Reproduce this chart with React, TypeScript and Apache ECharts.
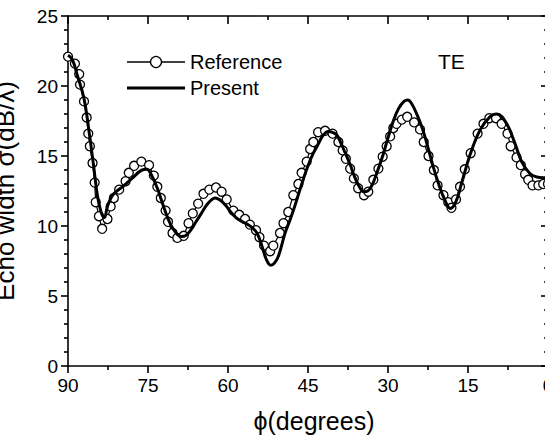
import React, { useEffect, useRef } from "react";
import * as echarts from "echarts";

const xTicks = [90, 75, 60, 45, 30, 15, 0];
const yTicks = [0, 5, 10, 15, 20, 25];

const presentPhi = [90, 89.2, 88.2, 87, 86, 85.2, 84.5, 83.8, 83.2, 82.6, 81.8, 81, 79.8, 78, 76.1, 75.2, 74.5, 73.25, 72, 70.75, 69.5, 68.7, 68, 67, 66, 65, 64, 63, 62.4, 61.5, 60.5, 59.5, 58.5, 57.5, 56.5, 55.5, 54.5, 53.5, 52.8, 52, 51.3, 50.5, 49.3, 48.5, 47.75, 47, 46, 45, 44, 43, 42.3, 41.2, 40.5, 39.6, 38.8, 38, 37, 36.5, 35.5, 34.5, 33.8, 33, 32, 31, 30, 29, 28, 27, 26.3, 25.5, 24.5, 23.5, 22.5, 21.5, 20.5, 19.5, 18.3, 17.3, 16.2, 14.6, 12.75, 10.9, 9.6, 7.75, 6.2, 4.95, 3.4, 2.1, 0.9, 0];
const presentVal = [22.2, 21.9, 20.7, 19.1, 16.6, 14.3, 12.2, 11.0, 10.6, 11.4, 12.1, 12.45, 12.8, 13.4, 14.0, 14.05, 13.75, 12.7, 11.3, 10.1, 9.4, 9.25, 9.3, 9.7, 10.3, 10.9, 11.5, 11.9, 12.0, 11.85, 11.5, 11.0, 10.6, 10.35, 10.15, 9.9, 9.45, 8.4, 7.6, 7.2, 7.35, 7.9, 9.5, 10.3, 11.1, 12.0, 13.2, 14.3, 15.2, 15.9, 16.4, 16.75, 16.7, 16.5, 15.9, 15.2, 14.3, 13.75, 12.9, 12.45, 12.5, 12.9, 13.9, 15.0, 16.3, 17.5, 18.4, 18.9, 19.0, 18.7, 17.9, 16.9, 15.6, 14.2, 13.0, 12.0, 11.25, 11.7, 13.05, 15.1, 16.85, 17.8, 18.0, 17.3, 15.9, 14.6, 13.75, 13.5, 13.45, 13.45];

const referencePhi = [90, 88.7, 87.9, 87.75, 87.0, 86.5, 86.2, 85.9, 85.4, 85.0, 84.8, 84.2, 83.6, 82.6, 82.0, 81.4, 80.4, 79.2, 78.6, 77.6, 76.25, 74.8, 73.9, 73.25, 72.6, 71.7, 71.25, 70.4, 69.5, 68.3, 67.4, 66.6, 65.6, 64.6, 63.5, 62.25, 61.2, 60.25, 59.0, 57.9, 56.8, 55.9, 54.75, 54.1, 53.25, 52.1, 51.5, 50.25, 49.6, 48.7, 47.75, 46.8, 46.2, 45.25, 44.6, 44.0, 43.1, 41.8, 40.4, 39.3, 38.5, 37.9, 37.1, 36.4, 35.6, 34.5, 33.7, 32.75, 31.8, 31.0, 30.25, 29.6, 29.0, 28.4, 27.4, 26.4, 25.1, 24.0, 23.3, 22.4, 21.4, 20.7, 19.6, 18.7, 18.1, 17.25, 16.5, 15.6, 14.5, 13.2, 12.1, 11.0, 9.75, 8.7, 7.6, 7.0, 5.9, 5.1, 4.3, 3.7, 2.9, 1.8, 0.9, 0];
const referenceVal = [22.1, 21.6, 20.85, 20.1, 18.9, 17.75, 16.6, 15.7, 14.5, 13.1, 11.7, 10.7, 9.8, 10.5, 11.4, 12.0, 12.6, 13.2, 13.8, 14.3, 14.6, 14.35, 13.6, 12.8, 12.0, 11.1, 10.3, 9.5, 9.15, 9.3, 10.2, 10.9, 11.6, 12.3, 12.6, 12.75, 12.45, 11.9, 11.1, 10.8, 10.5, 10.1, 9.7, 9.2, 8.6, 8.2, 8.6, 9.5, 10.2, 11.0, 12.2, 13.0, 13.8, 14.6, 15.5, 16.0, 16.7, 16.8, 16.6, 16.0, 15.4, 14.8, 14.1, 13.4, 12.7, 12.2, 12.45, 13.3, 14.1, 14.95, 15.7, 16.4, 17.0, 17.3, 17.6, 17.8, 17.4, 16.9, 16.0, 15.0, 14.0, 12.9, 12.2, 11.7, 11.3, 11.9, 12.8, 14.05, 15.2, 16.6, 17.3, 17.7, 17.7, 17.3, 16.6, 15.7, 14.9, 14.35, 13.7, 13.3, 12.9, 12.9, 13.0, 13.0];

const seriesNames = ["Reference", "Present"];
const FONT = "'Liberation Sans', Arial, Helvetica, sans-serif";

const stroke = () => ({ color: "#000", width: 1.6 });

export default function App() {
  const ref = useRef<HTMLDivElement>(null);
  useEffect(() => {
    if (!ref.current) return;
    const chart = echarts.init(ref.current, undefined, { renderer: "svg" });
    const xBase = () => ({
      type: "value" as const,
      gridIndex: 0,
      min: xTicks[xTicks.length - 1],
      max: xTicks[0],
      interval: 15,
      inverse: true,
      splitLine: { show: false },
      minorSplitLine: { show: false },
      axisLine: { show: true, onZero: false, lineStyle: stroke() },
    });
    const yBase = () => ({
      type: "value" as const,
      gridIndex: 0,
      min: yTicks[0],
      max: yTicks[yTicks.length - 1],
      interval: 5,
      splitLine: { show: false },
      minorSplitLine: { show: false },
      axisLine: { show: true, onZero: false, lineStyle: stroke() },
    });
    chart.setOption({
      animation: false,
      backgroundColor: "#fff",
      grid: {
        left: 68,
        top: 16,
        right: -3,
        bottom: 70,
        containLabel: false,
        outerBoundsMode: "none",
      },
      graphic: [
        { type: "line", shape: { x1: 127, y1: 62, x2: 185, y2: 62 }, style: { stroke: "#000", lineWidth: 1.5 } },
        { type: "circle", shape: { cx: 156, cy: 62, r: 5.5 }, style: { fill: "#fff", stroke: "#000", lineWidth: 1.3 } },
        { type: "text", x: 190, y: 62, style: { text: seriesNames[0], fontSize: 20, fill: "#000", fontFamily: FONT, verticalAlign: "middle" } },
        { type: "line", shape: { x1: 127, y1: 88, x2: 185, y2: 88 }, style: { stroke: "#000", lineWidth: 3 } },
        { type: "text", x: 190, y: 88, style: { text: seriesNames[1], fontSize: 20, fill: "#000", fontFamily: FONT, verticalAlign: "middle" } },
        { type: "text", x: 438, y: 61, style: { text: "TE", fontSize: 21, fill: "#000", fontFamily: FONT, verticalAlign: "middle" } },
      ],
      xAxis: [
        {
          ...xBase(),
          position: "bottom",
          axisTick: { show: true, inside: false, length: 7, lineStyle: stroke() },
          minorTick: { show: true, splitNumber: 2, length: 4, lineStyle: stroke() },
          axisLabel: { fontSize: 19, color: "#000", fontFamily: FONT, margin: 10 },
          name: "ϕ(degrees)",
          nameLocation: "middle",
          nameGap: 42,
          nameTextStyle: { fontSize: 25, color: "#000", fontFamily: FONT, padding: [0, 0, 0, 12] },
        },
        {
          ...xBase(),
          position: "top",
          axisTick: { show: true, inside: true, length: 8, lineStyle: stroke() },
          minorTick: { show: true, splitNumber: 2, length: 4, lineStyle: stroke() },
          axisLabel: { show: false },
        },
      ],
      yAxis: [
        {
          ...yBase(),
          position: "left",
          axisTick: { show: true, inside: false, length: 7, lineStyle: stroke() },
          minorTick: { show: true, splitNumber: 5, length: 4, lineStyle: stroke() },
          axisLabel: { fontSize: 19, color: "#000", fontFamily: FONT, margin: 10 },
          name: "Echo width σ(dB/λ)",
          nameLocation: "middle",
          nameGap: 50,
          nameTextStyle: { fontSize: 26, color: "#000", fontFamily: FONT },
        },
        {
          ...yBase(),
          position: "right",
          axisTick: { show: true, inside: true, length: 7, lineStyle: stroke() },
          minorTick: { show: true, splitNumber: 5, length: 4, lineStyle: stroke() },
          axisLabel: { show: false },
        },
      ],
      series: [
        {
          name: seriesNames[0],
          type: "line",
          xAxisIndex: 0,
          yAxisIndex: 0,
          data: referencePhi.map((p, i) => [p, referenceVal[i]]),
          symbol: "circle",
          symbolSize: 9,
          showSymbol: true,
          lineStyle: { color: "#000", width: 1.2 },
          itemStyle: { color: "#fff", borderColor: "#000", borderWidth: 1.3 },
          z: 2,
        },
        {
          name: seriesNames[1],
          type: "line",
          xAxisIndex: 0,
          yAxisIndex: 0,
          data: presentPhi.map((p, i) => [p, presentVal[i]]),
          smooth: 0.4,
          showSymbol: false,
          symbol: "none",
          lineStyle: { color: "#000", width: 3 },
          itemStyle: { color: "#000" },
          z: 3,
        },
      ],
    });
    return () => chart.dispose();
  }, []);
  return (
    <div
      ref={ref}
      style={{ position: "fixed", left: 0, top: 0, width: 545, height: 436 }}
    />
  );
}
